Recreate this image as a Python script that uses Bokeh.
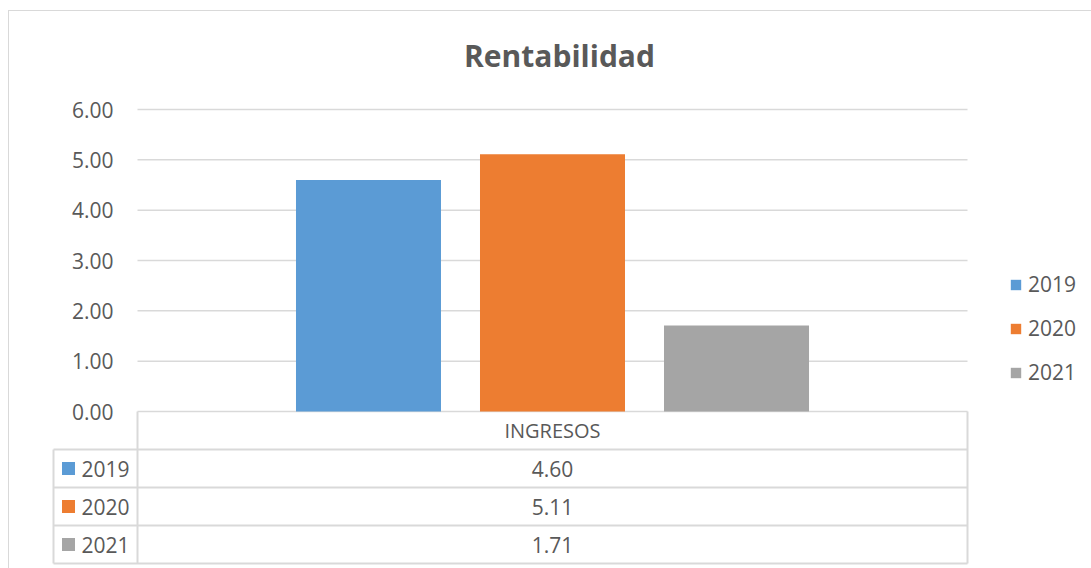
from bokeh.plotting import figure
from bokeh.models import (Range1d, Legend, LegendItem, FixedTicker,
                          NumeralTickFormatter, ColumnDataSource)
from bokeh.layouts import column
from bokeh.embed import file_html
from bokeh.resources import INLINE
from bokeh.core.properties import value

# ---- data ----
title_text = "Rentabilidad"
categories = ["INGRESOS"]
series_names = ["2019", "2020", "2021"]
series_values = [4.60, 5.11, 1.71]
series_colors = ["#5B9BD5", "#ED7D31", "#A5A5A5"]
y_ticks = [0, 1, 2, 3, 4, 5, 6]

# ---- style / layout constants (pixels) ----
FONT = "Open Sans"
TXT = "#595959"
GRID = "#D9D9D9"
W, H = 1082, 557          # figure size
ZERO = 400                # y of the zero line inside the figure
PLOT_H = 302              # height of the 0..6 value area
CAT_L, CAT_W = 128, 830   # category (plot area) left edge inside figure, width
LBL_W = 84                # width of table's legend column
ROW_H = 38                # table row height
Y_PX = PLOT_H / float(max(y_ticks))

x_range = Range1d(-CAT_L / CAT_W, (W - CAT_L) / CAT_W)
y_range = Range1d(-(H - ZERO) / Y_PX, ZERO / Y_PX)

p = figure(width=W, height=H, x_range=x_range, y_range=y_range,
           output_backend="svg", toolbar_location=None, x_axis_location=None,
           min_border_left=0, min_border_right=0, min_border_top=0, min_border_bottom=0)
p.outline_line_color = None
p.xgrid.visible = False
p.ygrid.visible = False
ax = p.yaxis[0]
ax.fixed_location = 0
ax.ticker = FixedTicker(ticks=y_ticks)
ax.formatter = NumeralTickFormatter(format="0.00")
ax.axis_line_color = None
ax.major_tick_line_color = None
ax.minor_tick_line_color = None
ax.major_tick_out = 0
ax.major_tick_in = 0
ax.major_label_standoff = 24
ax.major_label_text_font = FONT
ax.major_label_text_font_size = "21px"
ax.major_label_text_color = TXT

ncat = len(categories)

# chart title (centred over the chart)
p.text(x=[ncat / 2.0], y=[max(y_ticks)], text=[title_text], x_offset=7, y_offset=-54,
       text_font=value(FONT), text_font_size=value("30px"), text_font_style="bold",
       text_color=TXT, text_align="center", text_baseline="middle")

# horizontal gridlines across the category span
p.segment(x0=[0] * len(y_ticks), x1=[ncat] * len(y_ticks), y0=y_ticks, y1=y_ticks,
          line_color=GRID, line_width=1.5, level="underlay")

# bars
offsets = [-0.2217, 0.0, 0.2217]
bar_w = 0.1747
items = []
for name, v, c, off in zip(series_names, series_values, series_colors, offsets):
    src = ColumnDataSource(dict(x=[i + 0.5 + off for i in range(ncat)], top=[v]))
    r = p.vbar(x="x", top="top", width=bar_w, source=src, fill_color=c, line_color=None)
    items.append(LegendItem(label=name, renderers=[r]))

legend = Legend(items=items, location=(1000, 182), glyph_width=13, glyph_height=13,
                label_standoff=6, spacing=16, padding=0, margin=0,
                border_line_color=None, background_fill_alpha=0,
                label_text_font=FONT, label_text_font_size="21px", label_text_color=TXT)
p.add_layout(legend)

# ---- data table below the axis ----
n = len(series_names)
p.extra_y_ranges = {"table": Range1d((H - ZERO) / ROW_H, -ZERO / ROW_H)}
lx = -LBL_W / CAT_W
hy = [k for k in range(1, n + 2)]
p.segment(x0=[lx] * len(hy), x1=[ncat] * len(hy), y0=hy, y1=hy, y_range_name="table",
          line_color=GRID, line_width=2)
p.segment(x0=[0, ncat, lx], x1=[0, ncat, lx], y0=[0, 0, 1], y1=[n + 1] * 3, y_range_name="table",
          line_color=GRID, line_width=2)

p.text(x=[i + 0.5 for i in range(ncat)], y=[0.5] * ncat, text=categories, y_range_name="table",
       text_font=value(FONT), text_font_size=value("20px"), text_color=TXT,
       text_align="center", text_baseline="middle")
row_c = [i + 1.5 for i in range(n)]
p.text(x=[0.5] * n, y=row_c, text=["%.2f" % v for v in series_values], y_range_name="table",
       text_font=value(FONT), text_font_size=value("21px"), text_color=TXT,
       text_align="center", text_baseline="middle")
p.rect(x=[lx + 15 / CAT_W] * n, y=row_c, width=13, height=13, width_units="screen", height_units="screen",
       y_range_name="table", fill_color=series_colors, line_color=None)
p.text(x=[lx + 28 / CAT_W] * n, y=row_c, text=series_names, y_range_name="table",
       text_font=value(FONT), text_font_size=value("21px"), text_color=TXT,
       text_align="left", text_baseline="middle")

layout = column(p, styles={"border-left": "1px solid #D9D9D9", "border-top": "1px solid #D9D9D9",
                           "margin-left": "8px", "margin-top": "10px"})
open("out.html", "w").write(file_html(layout, INLINE))
